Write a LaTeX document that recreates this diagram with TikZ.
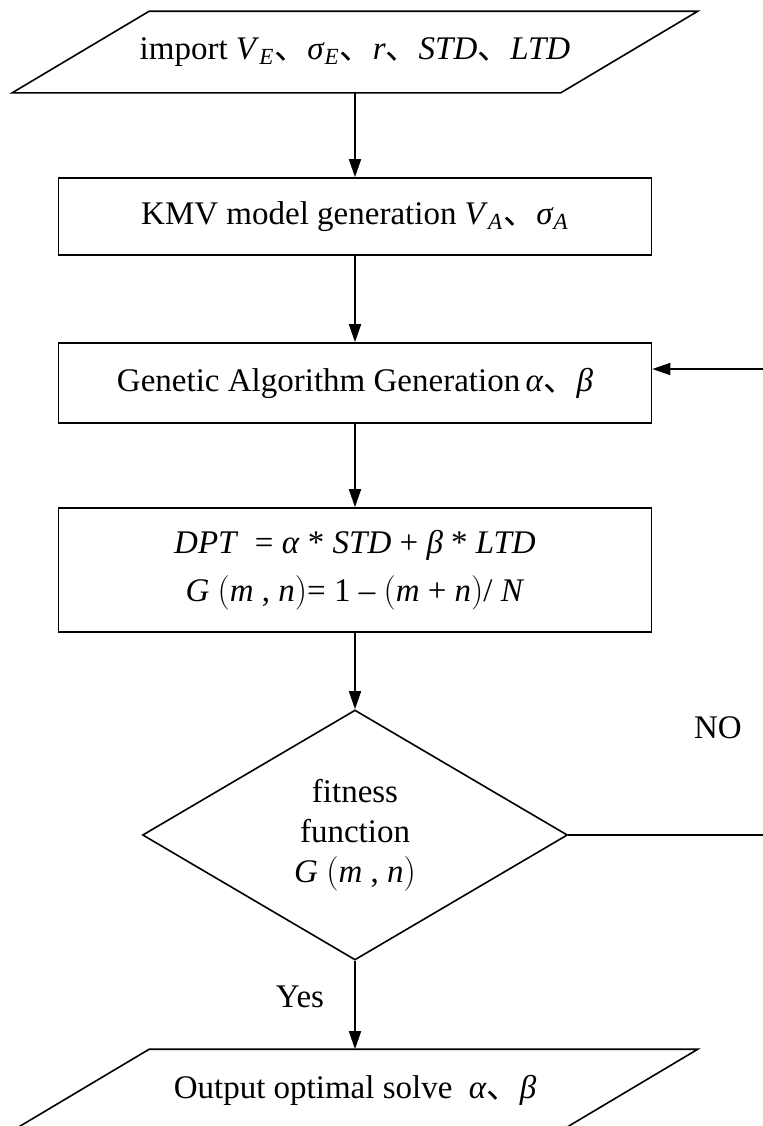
\documentclass[tikz,border=0pt]{standalone}
\usepackage{fontspec}
\setmainfont{Liberation Serif}
\newfontfamily\cjk{Noto Sans CJK SC}
\usetikzlibrary{arrows.meta, shapes.geometric}

\newcommand{\dun}{{\cjk 、}}
\newcommand{\vi}[1]{\textit{#1}}
\newcommand{\sbi}[1]{\textsubscript{\textit{#1}}}

\begin{document}
\begin{tikzpicture}[
    x=0.5pt, y=-0.5pt,
    font=\fontsize{16.5}{20}\selectfont,
    line width=0.8pt,
    box/.style={draw, minimum width=296.5pt, minimum height=38.5pt, align=center, inner sep=0pt},
    io/.style={minimum width=342pt, minimum height=40pt, align=center, inner sep=0pt},
    dec/.style={draw, diamond, aspect=1.7, minimum width=212.5pt, minimum height=125pt, align=center, inner sep=0pt},
    >={Triangle[length=9pt, width=6pt]}
  ]
    \useasboundingbox (0,0) rectangle (763,1126);

    \node[io] (in) at (355,52) {import \vi{V}\sbi{E}\dun\vi{σ}\sbi{E}\dun\vi{r}\dun\vi{STD}\dun\vi{LTD}};
    \node[box] (kmv) at (355,216.5) {KMV model generation \vi{V}\sbi{A}\dun\vi{σ}\sbi{A}};
    \node[box, minimum height=40pt] (ga) at (355,383) {Genetic Algorithm Generation\,\vi{α}\dun\vi{β}};
    \node[box, minimum height=62pt] (dpt) at (355,570) {\vi{DPT}\ \ = \vi{α} * \vi{STD} + \vi{β} * \vi{LTD}\\[4pt]
      \vi{G} $\Bigl($\vi{m} , \vi{n}$\Bigr)$= 1 -- $\Bigl($\vi{m} + \vi{n}$\Bigr)$/ \vi{N}};
    \node[dec] (fit) at (355,835) {fitness\\function\\\vi{G} $\Bigl($\vi{m} , \vi{n}$\Bigr)$};
    \node[io] (out) at (355,1090) {Output optimal solve \ \vi{α}\dun\vi{β}};

    % parallelogram outlines
    \draw ([xshift=68.5pt]in.north west) -- (in.north east) -- ([xshift=-68.5pt]in.south east) -- (in.south west) -- cycle;
    \draw ([xshift=68.5pt]out.north west) -- (out.north east) -- ([xshift=-68.5pt]out.south east) -- (out.south west) -- cycle;

    \node (no) at (718,728) {NO};
    \node (yes) at (300,997) {Yes};
    \coordinate (back) at (830,835);

    \draw[->] (in) -- (kmv);
    \draw[->] (kmv) -- (ga);
    \draw[->] (ga) -- (dpt);
    \draw[->] (dpt) -- (fit);
    \draw[->] (fit) -- (out);
    \draw[->] (fit.east) -- (back) |- ([yshift=7pt]ga.east);
\end{tikzpicture}
\end{document}
